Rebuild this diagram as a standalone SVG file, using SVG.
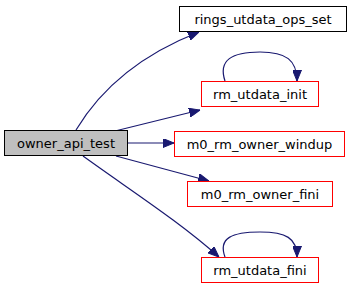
<svg xmlns="http://www.w3.org/2000/svg" width="349" height="288" viewBox="0 0 349 288">
  <style>
    .node rect { fill: #ffffff; stroke: #ff0000; stroke-width: 1; }
    .node.plain rect { stroke: #000000; }
    .node.root rect { fill: #bfbfbf; stroke: #000000; }
    .node text { font-family: "DejaVu Sans", sans-serif; font-size: 13px; fill: #000000; text-anchor: middle; }
    .edge { fill: none; stroke: #191970; stroke-width: 1.2; marker-end: url(#arrow); }
  </style>
  <defs>
    <marker id="arrow" viewBox="0 0 11 9" refX="11" refY="4.5" markerWidth="11" markerHeight="9" markerUnits="userSpaceOnUse" orient="auto">
      <path d="M0,0 L11,4.5 L0,9 Z" fill="#191970" stroke="#191970"/>
    </marker>
  </defs>
  <rect width="349" height="288" fill="#ffffff"/>

  <g id="connectors">
    <path class="edge" d="M76,130 C100,90 140,55 199,32"/>
    <path class="edge" d="M115,131 L200,110"/>
    <path class="edge" d="M128,143 L174,143"/>
    <path class="edge" d="M116,156 L209,181"/>
    <path class="edge" d="M83,156 C130,190 180,222 219,257"/>
    <path class="edge" d="M225,81 C218,60 232,52 260,52 C286,52 297,60 297,81"/>
    <path class="edge" d="M225,257 C218,238 232,232 260,232 C286,232 297,238 297,257"/>
  </g>

  <g id="owner_api_test" class="node root">
    <rect x="4.5" y="130.5" width="123" height="25"/>
    <text x="66" y="147.5">owner_api_test</text>
  </g>
  <g id="rings_utdata_ops_set" class="node plain">
    <rect x="179.5" y="6.5" width="167" height="25"/>
    <text x="263" y="23.5">rings_utdata_ops_set</text>
  </g>
  <g id="rm_utdata_init" class="node">
    <rect x="201.5" y="81.5" width="117" height="25"/>
    <text x="260" y="98.5">rm_utdata_init</text>
  </g>
  <g id="m0_rm_owner_windup" class="node">
    <rect x="174.5" y="131.5" width="170" height="25"/>
    <text x="259.5" y="148.5">m0_rm_owner_windup</text>
  </g>
  <g id="m0_rm_owner_fini" class="node">
    <rect x="187.5" y="181.5" width="145" height="25"/>
    <text x="260" y="198.5">m0_rm_owner_fini</text>
  </g>
  <g id="rm_utdata_fini" class="node">
    <rect x="201.5" y="257.5" width="117" height="25"/>
    <text x="260" y="274.5">rm_utdata_fini</text>
  </g>
</svg>
